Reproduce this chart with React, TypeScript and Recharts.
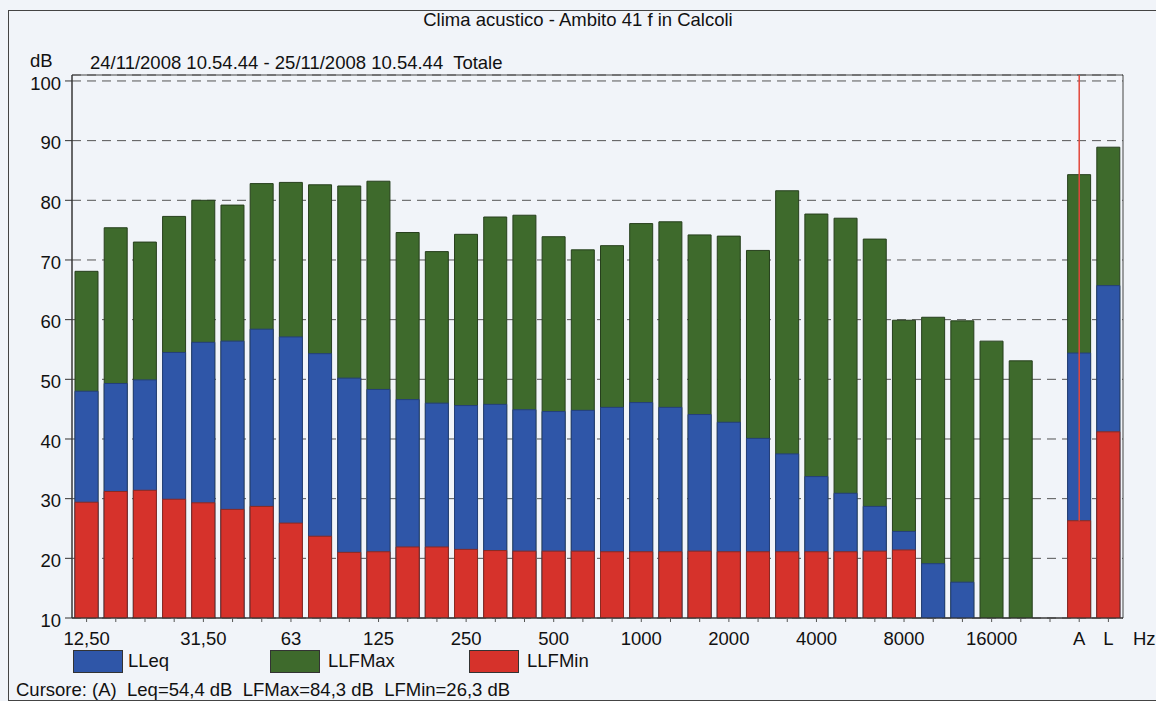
import {
  BarChart,
  Bar,
  XAxis,
  YAxis,
  CartesianGrid,
  ReferenceLine,
  ReferenceArea,
} from "recharts";

// bande in terzi d'ottava + totali A / L (lo slot " " è vuoto)
const bands = [
  "12,50", "16", "20", "25", "31,50", "40", "50", "63", "80", "100", "125", "160",
  "200", "250", "315", "400", "500", "630", "800", "1000", "1250", "1600", "2000", "2500",
  "3150", "4000", "5000", "6300", "8000", "10000", "12500", "16000", "20000", " ", "A", "L",
];

const lfmax = [
  68.1, 75.4, 73.0, 77.3, 80.0, 79.2, 82.8, 83.0, 82.6, 82.4, 83.2, 74.6,
  71.4, 74.3, 77.2, 77.5, 73.9, 71.7, 72.4, 76.1, 76.4, 74.2, 74.0, 71.6,
  81.6, 77.7, 77.0, 73.5, 59.9, 60.4, 59.8, 56.4, 53.1, null, 84.3, 88.9,
];

const leq = [
  48.0, 49.3, 49.9, 54.5, 56.2, 56.4, 58.4, 57.1, 54.3, 50.2, 48.3, 46.6,
  46.0, 45.6, 45.8, 44.9, 44.6, 44.8, 45.3, 46.1, 45.3, 44.1, 42.8, 40.1,
  37.5, 33.7, 30.9, 28.7, 24.5, 19.1, 16.0, null, null, null, 54.4, 65.7,
];

const lfmin = [
  29.4, 31.2, 31.4, 29.9, 29.3, 28.2, 28.7, 25.9, 23.7, 21.0, 21.1, 21.9,
  21.9, 21.5, 21.3, 21.2, 21.2, 21.2, 21.1, 21.1, 21.1, 21.2, 21.1, 21.1,
  21.1, 21.1, 21.1, 21.2, 21.4, null, null, null, null, null, 26.3, 41.2,
];

const shownTicks = ["12,50", "31,50", "63", "125", "250", "500", "1000", "2000", "4000", "8000", "16000", "A", "L"];
const yTicks = [10, 20, 30, 40, 50, 60, 70, 80, 90, 100];

const series = [
  { key: "leq", name: "LLeq", color: "#2f56a8" },
  { key: "lfmax", name: "LLFMax", color: "#3e6a2c" },
  { key: "lfmin", name: "LLFMin", color: "#d6322b" },
];

const data = bands.map((band, i) => ({ band, lfmax: lfmax[i], leq: leq[i], lfmin: lfmin[i] }));

const FONT = "'Liberation Sans', Arial, sans-serif";
const BG = "#f1f4f9";
const cursor = bands.indexOf("A");
const fmt = (v: number | null) => (v == null ? "" : v.toFixed(1).replace(".", ","));
const colorOf = (k: string) => series.find((s) => s.key === k)!.color;

export default function App() {
  const txt = { position: "absolute" as const, fontFamily: FONT, fontSize: 18.5, color: "#111", lineHeight: "18px", whiteSpace: "pre" as const };
  return (
    <div style={{ position: "absolute", left: 0, top: 0, width: 1156, height: 701, background: BG, overflow: "hidden" }}>
      <div style={{ position: "absolute", left: 8, top: 10, width: 1160, height: 689, borderLeft: "1px solid #444", borderTop: "1px solid #444", borderBottom: "1px solid #444" }} />
      <div style={{ ...txt, left: 0, width: 1156, top: 11, textAlign: "center" }}>Clima acustico - Ambito 41 f in Calcoli</div>
      <div style={{ ...txt, left: 30, top: 52 }}>dB</div>
      <div style={{ ...txt, left: 90, top: 54 }}>24/11/2008 10.54.44 - 25/11/2008 10.54.44  Totale</div>

      <div style={{ position: "absolute", left: 0, top: 0 }}>
        <BarChart width={1156} height={701} data={data} margin={{ top: 75, right: 33, left: 12, bottom: 43 }} barGap={-23}>
          <CartesianGrid vertical={false} stroke="#555" strokeDasharray="9 6" />
          <ReferenceArea y1={10} y2={101} fill="none" stroke="#444" strokeWidth={1} />
          <XAxis
            dataKey="band"
            interval={0}
            height={40}
            tickSize={4}
            tickMargin={10}
            tickFormatter={(v) => (shownTicks.includes(v) ? v : "")}
            tick={{ fill: "#111", fontSize: 18.5, fontFamily: FONT }}
            axisLine={{ stroke: "#333" }}
            tickLine={{ stroke: "#555" }}
            label={{ value: "Hz", position: "right", offset: 10, fill: "#111", fontSize: 18.5, fontFamily: FONT }}
          />
          <YAxis
            domain={[10, 101]}
            ticks={yTicks}
            allowDataOverflow
            width={60}
            tickSize={7}
            tickMargin={4}
            tick={{ fill: "#111", fontSize: 18.5, fontFamily: FONT, dy: 2 }}
            axisLine={{ stroke: "#333" }}
            tickLine={{ stroke: "#333" }}
          />
          <Bar dataKey="lfmax" name="LLFMax" fill={colorOf("lfmax")} stroke="#263f1c" strokeWidth={1} barSize={23} isAnimationActive={false} />
          <Bar dataKey="leq" name="LLeq" fill={colorOf("leq")} stroke="#243f7a" strokeWidth={1} barSize={23} isAnimationActive={false} />
          <Bar dataKey="lfmin" name="LLFMin" fill={colorOf("lfmin")} stroke="#8a2a22" strokeWidth={1} barSize={23} isAnimationActive={false} />
          <ReferenceLine
            segment={[{ x: "A", y: lfmin[cursor] as number }, { x: "A", y: 101 }]}
            stroke="#e2473b"
            strokeWidth={1.5}
          />
        </BarChart>
      </div>

      {series.map((s, i) => (
        <div key={s.key}>
          <div style={{ position: "absolute", left: 73, top: 650, width: 48, height: 21, background: s.color, border: "1px solid #333", marginLeft: [0, 197, 396][i] }} />
          <div style={{ ...txt, left: [128, 328, 527][i], top: 652 }}>{s.name}</div>
        </div>
      ))}
      <div style={{ ...txt, left: 16, top: 681 }}>
        {`Cursore: (A)  Leq=${fmt(leq[cursor])} dB  LFMax=${fmt(lfmax[cursor])} dB  LFMin=${fmt(lfmin[cursor])} dB`}
      </div>
    </div>
  );
}
